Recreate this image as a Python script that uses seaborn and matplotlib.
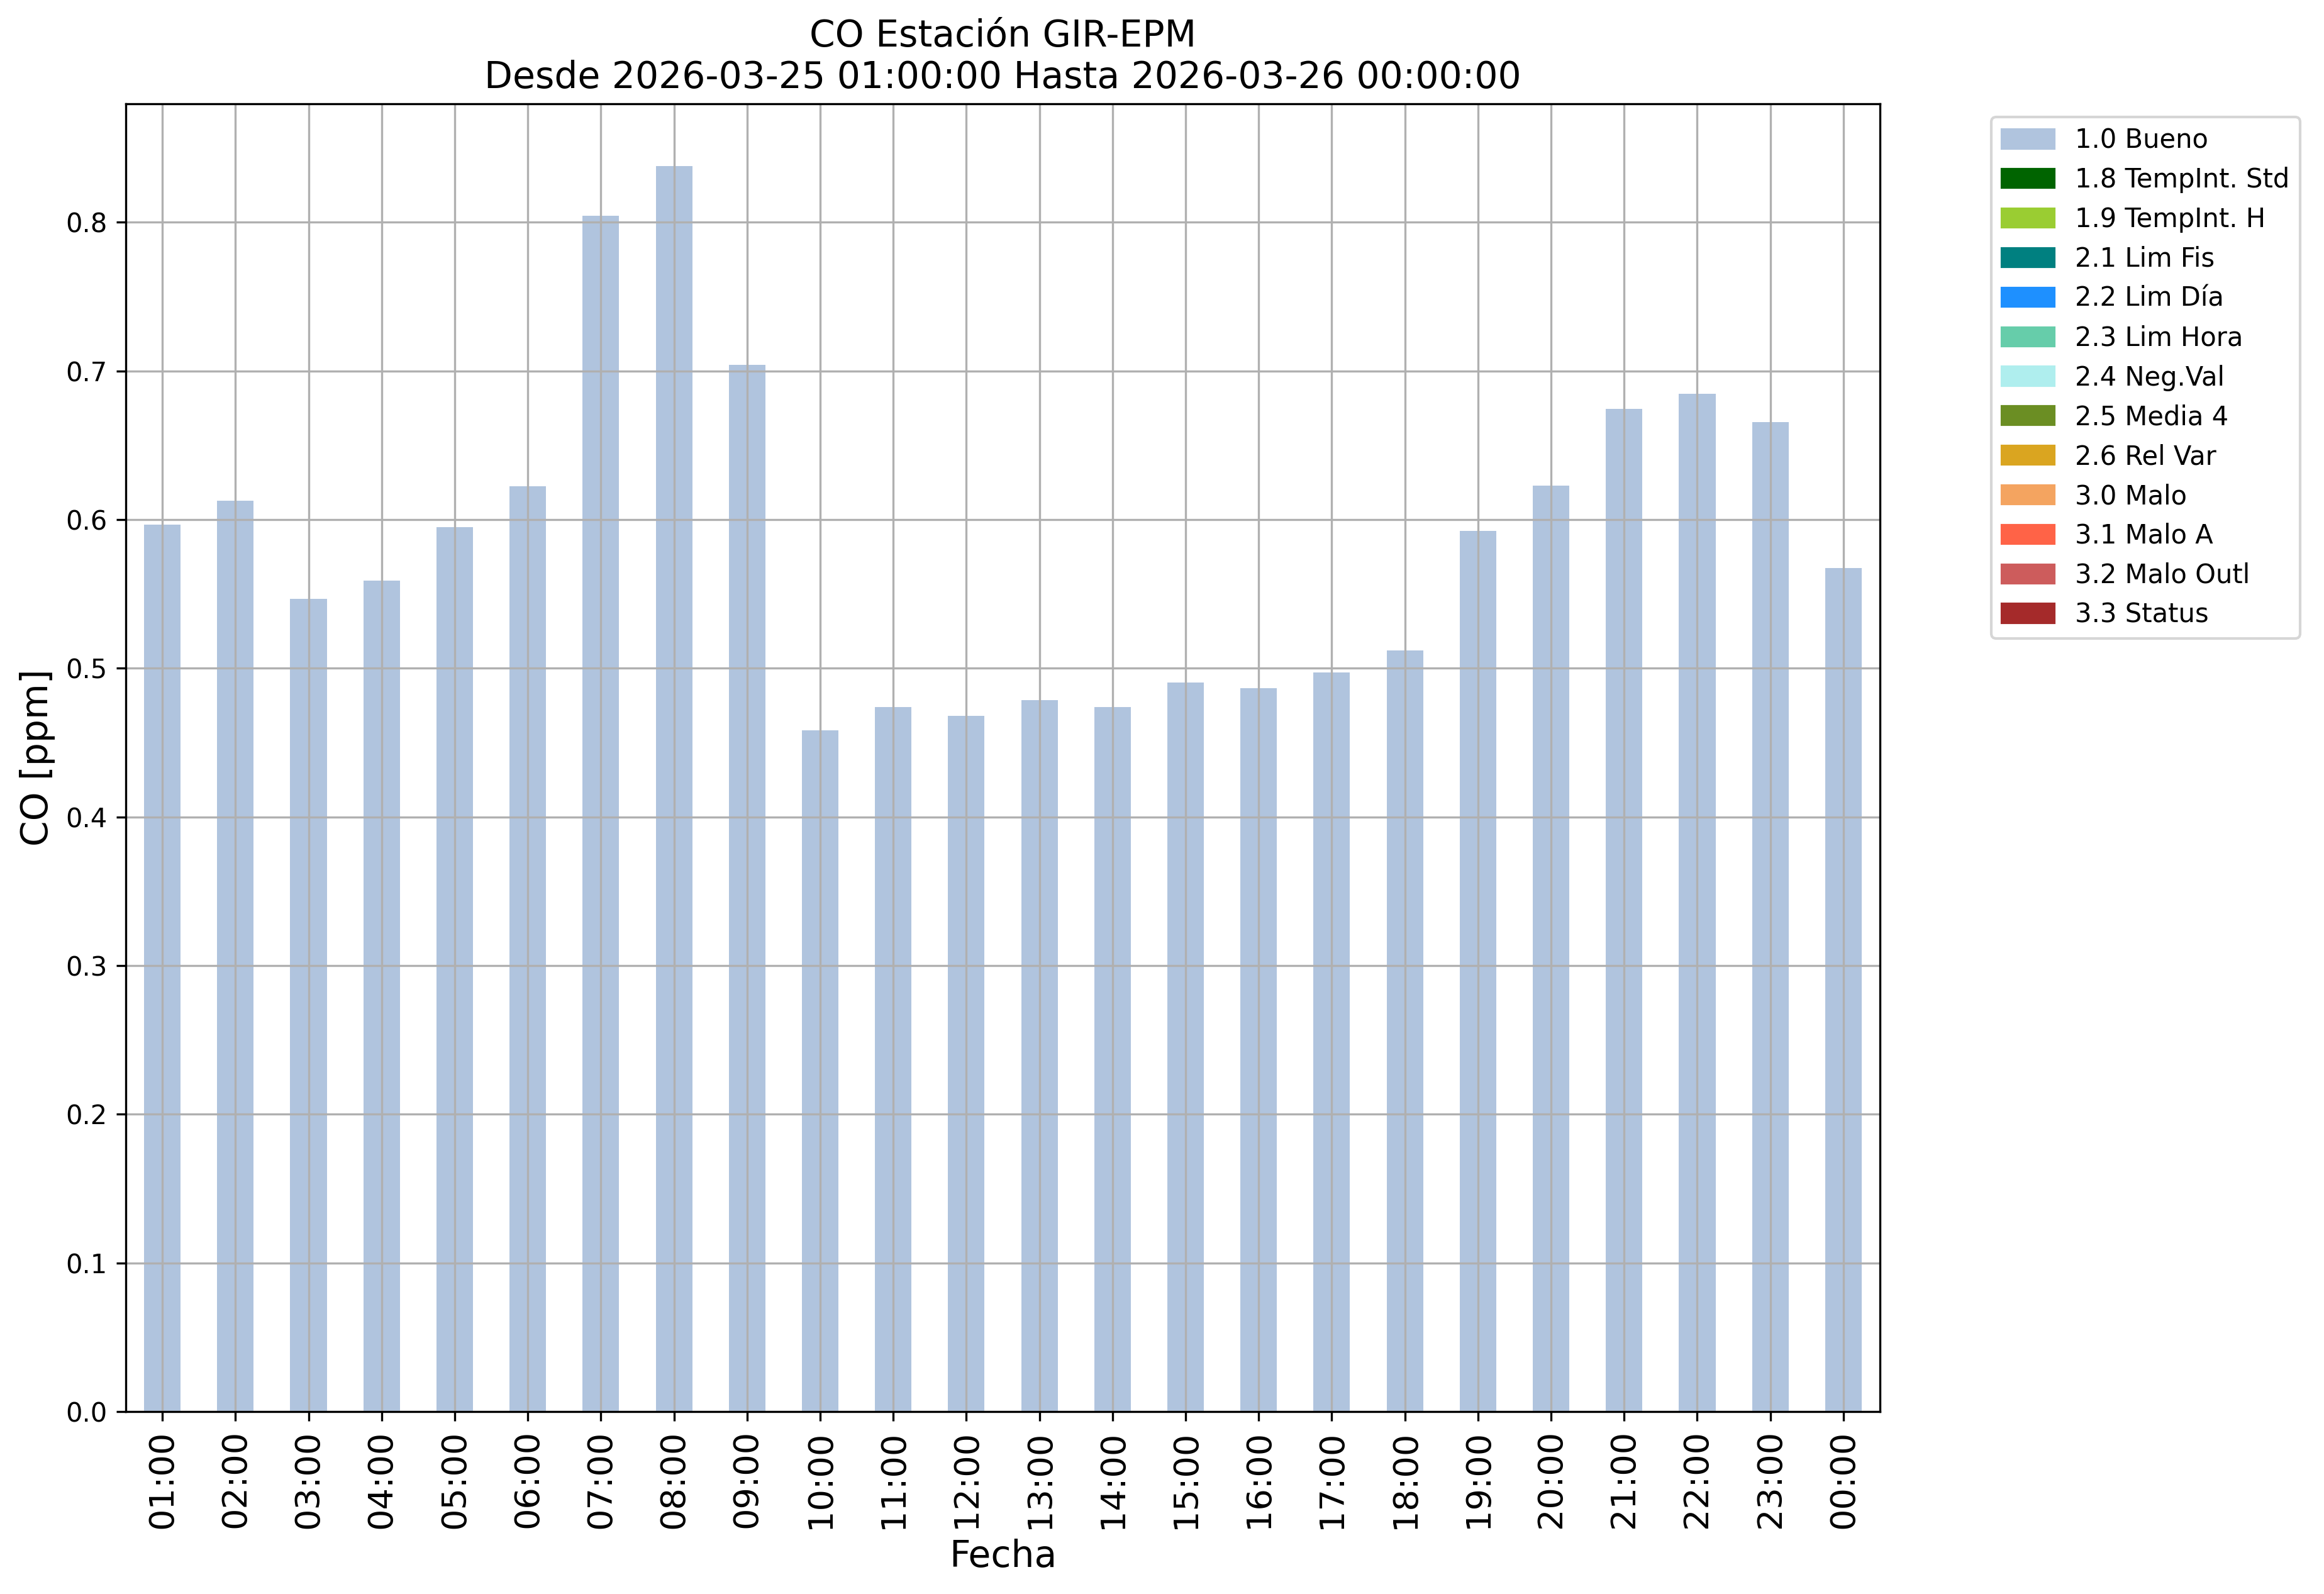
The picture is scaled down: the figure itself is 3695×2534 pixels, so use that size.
import pandas as pd
import matplotlib
matplotlib.use("Agg")
import matplotlib.pyplot as plt
import matplotlib.patches as mpatches
import seaborn as sns

# valores horarios de CO (ppm)
horas = ["01:00", "02:00", "03:00", "04:00", "05:00", "06:00", "07:00", "08:00",
         "09:00", "10:00", "11:00", "12:00", "13:00", "14:00", "15:00", "16:00",
         "17:00", "18:00", "19:00", "20:00", "21:00", "22:00", "23:00", "00:00"]
co = [0.5965, 0.6127, 0.5465, 0.5590, 0.5949, 0.6224, 0.8043, 0.8378,
      0.7040, 0.4584, 0.4738, 0.4679, 0.4784, 0.4741, 0.4903, 0.4868,
      0.4970, 0.5122, 0.5924, 0.6230, 0.6743, 0.6846, 0.6654, 0.5673]

# banderas de calidad y sus colores
flags = ["1.0 Bueno", "1.8 TempInt. Std", "1.9 TempInt. H", "2.1 Lim Fis",
         "2.2 Lim Día", "2.3 Lim Hora", "2.4 Neg.Val", "2.5 Media 4",
         "2.6 Rel Var", "3.0 Malo", "3.1 Malo A", "3.2 Malo Outl", "3.3 Status"]
flag_colors = ["lightsteelblue", "darkgreen", "yellowgreen", "teal",
               "dodgerblue", "mediumaquamarine", "paleturquoise", "olivedrab",
               "goldenrod", "sandybrown", "tomato", "indianred", "brown"]

df = pd.DataFrame({"Fecha": horas, "CO": co})

fig = plt.figure(figsize=(3695 / 300, 2534 / 300), dpi=300)
ax = fig.add_axes([200 / 3695, 1 - 2244 / 2534, 2789 / 3695, (2244 - 165) / 2534])

sns.barplot(data=df, x="Fecha", y="CO", order=horas, color=flag_colors[0],
            saturation=1, width=0.5, linewidth=0, ax=ax)

ax.grid(True)
ax.set_xlim(-0.5, len(horas) - 0.5)
ax.tick_params(axis="x", labelsize=13, labelrotation=90)
ax.tick_params(axis="y", labelsize=10)
ax.set_xlabel("Fecha", fontsize=14)
ax.set_ylabel("CO [ppm]", fontsize=14)
ax.set_title("CO Estación GIR-EPM\nDesde 2026-03-25 01:00:00 Hasta 2026-03-26 00:00:00",
             fontsize=14)

handles = [mpatches.Patch(color=c, label=l) for l, c in zip(flags, flag_colors)]
ax.legend(handles=handles, bbox_to_anchor=(1.056, 1), loc="upper left", fontsize=10)

fig.savefig("out.png", dpi=300)
